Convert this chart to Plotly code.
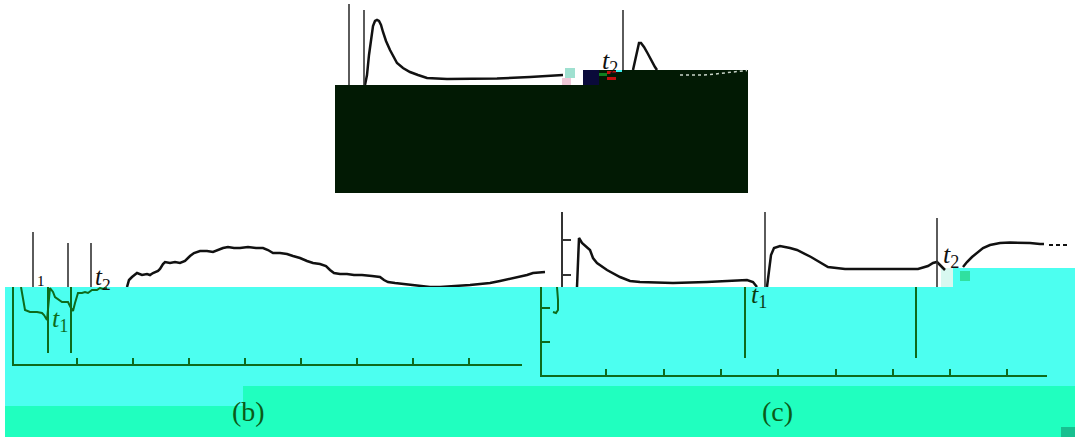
import plotly.graph_objects as go

W, H = 1075, 437

# ---- panel (a): upper trace, arbitrary units
a_x = [30, 32, 34, 36, 38, 40, 42, 44, 46, 48, 51, 55, 62, 68, 75, 83, 92, 112, 135, 162, 195, 228]
a_y = [0, 10, 30, 47, 59, 64, 65, 64, 60, 53, 44, 35, 22, 17, 13, 10, 7, 6, 6, 6.5, 8, 10]
a_peak2_x = [298, 300, 302, 304, 306, 309, 313, 317, 320, 322]
a_peak2_y = [15, 25, 35, 42, 42, 38, 31, 23, 18, 15]
a_tail_x = [345, 358, 368, 380, 395, 412]
a_tail_y = [10, 10, 10, 11, 12.5, 14.5]
a_marks_x = [14, 29, 288]
a_marks_top = [81, 75, 75]
a_marks_bot = [0, 0, 15]

# ---- panel (b)
b_green_x = [0, 2, 4, 9, 16, 21, 23, 26, 28, 29, 32, 34, 41, 47, 50, 52, 54, 57, 61, 64, 67, 71, 76, 79, 82, 86]
b_green_y = [77, 67, 54, 52, 52, 51, 49, 44, 64, 76, 72, 67, 62, 62, 56, 53, 61, 71, 71, 72, 71, 74, 74, 76, 75, 76]
b_green_marks_x = [27, 50]
b_black_x = [106, 108, 111, 116, 121, 126, 129, 132, 137, 139, 142, 144, 149, 154, 159, 164, 169, 173, 179, 186,
             192, 197, 202, 207, 213, 219, 227, 235, 242, 247, 252, 259, 266, 272, 279, 286, 292, 299, 305, 309,
             313, 319, 326, 333, 341, 351, 359, 363, 367, 374, 382, 391, 399, 409, 419, 429, 439, 449, 459, 469,
             479, 489, 499, 506, 512, 519, 524]
b_black_y = [77, 84, 87, 91, 89, 90, 89, 91, 93, 95, 100, 102, 101, 102, 101, 103, 108, 111, 113, 113,
             112, 114, 116, 117, 116, 116, 117, 116, 116, 114, 111, 111, 110, 108, 106, 103, 101, 100, 98, 94,
             91, 90, 90, 89, 89, 88, 87, 84, 82, 81, 80, 79, 78, 77, 77, 77.5, 78, 79, 80, 81,
             83, 85, 87, 89, 91, 92, 92]
b_marks_x = [12, 47, 70]
b_marks_top = [132, 121, 121]

# ---- panel (c)
c_green_x = [8, 9, 9, 7, 4]
c_green_y = [88, 75, 65, 62, 63]
c_green_marks_x = [196, 367]
c_seg1_x = [28, 30, 33, 41, 44, 48, 58, 71, 81, 91, 124, 158, 198, 204, 208]
c_seg1_y = [88, 137, 132, 125, 117, 112, 105, 98, 94, 93, 92, 93, 95, 93, 88]
c_seg2_x = [218, 220, 222, 225, 231, 241, 248, 262, 271, 279, 296, 331, 369, 379, 384, 388, 391, 394, 396]
c_seg2_y = [88, 105, 120, 127, 129, 127, 125, 118, 113, 108, 106, 106, 106, 109, 112, 113, 110, 107, 105]
c_seg3_x = [414, 418, 423, 429, 434, 441, 451, 461, 471, 481, 491, 495]
c_seg3_y = [108, 113, 118, 123, 127, 130, 132, 132.5, 132.5, 132, 131, 131]
c_dash_x = [500, 520]
c_dash_y = [130, 130]
c_marks_x = [216, 388]
c_marks_top = [163, 157]
c_xticks = [57.3, 114.6, 171.9, 229.2, 286.5, 343.8, 401.1, 458.4]
b_xticks = [56, 112, 168, 224, 280, 336, 392, 448]

BLACK = "#111111"
GREEN = "#0e6b1c"
CYAN = "#4cfff0"
MINT = "#20ffbf"
DARK = "#021a04"


def px(x):
    return x / W


def py(y):
    return 1 - y / H


fig = go.Figure()


def line(x, y, xa, ya, color, width, dash="solid"):
    fig.add_trace(go.Scatter(x=x, y=y, xaxis=xa, yaxis=ya, mode="lines",
                             line=dict(color=color, width=width, dash=dash),
                             showlegend=False, hoverinfo="skip"))


def marks(xs, bot, tops, xa, ya, color, width):
    for i, x in enumerate(xs):
        b = bot[i] if isinstance(bot, list) else bot
        line([x, x], [b, tops[i]], xa, ya, color, width)


# panel a
line(a_x, a_y, "x", "y", BLACK, 2.5)
line(a_peak2_x, a_peak2_y, "x", "y", BLACK, 2.5)
line(a_tail_x, a_tail_y, "x", "y", "#c8d4c8", 1.5, "dot")
marks(a_marks_x, a_marks_bot, a_marks_top, "x", "y", "#333333", 1.6)

# panel b
line(b_green_x, b_green_y, "x2", "y2", GREEN, 2)
marks(b_green_marks_x, 11, [77, 77], "x2", "y2", GREEN, 2)
line(b_black_x, b_black_y, "x3", "y3", BLACK, 2.5)
marks(b_marks_x, 77, b_marks_top, "x3", "y3", "#333333", 1.6)

# panel c
line(c_green_x, c_green_y, "x4", "y4", GREEN, 2)
marks(c_green_marks_x, 17, [88, 88], "x4", "y4", GREEN, 2)
line(c_seg1_x, c_seg1_y, "x5", "y5", BLACK, 2.5)
line(c_seg2_x, c_seg2_y, "x5", "y5", BLACK, 2.5)
line(c_seg3_x, c_seg3_y, "x5", "y5", BLACK, 2.5)
line(c_dash_x, c_dash_y, "x5", "y5", BLACK, 2, "4px,3px")
marks(c_marks_x, 88, c_marks_top, "x5", "y5", "#333333", 1.6)

hidden = dict(visible=False, fixedrange=True)
green_x = dict(showline=True, linecolor=GREEN, linewidth=2, ticks="inside", ticklen=6, tickwidth=2,
               tickcolor=GREEN, showticklabels=False, showgrid=False, zeroline=False)
green_y = dict(showline=True, linecolor=GREEN, linewidth=2, showticklabels=False,
               showgrid=False, zeroline=False)

# background blocks (image regions)
rects = [
    (335, 85, 748, 193, DARK), (583, 70, 748, 85, DARK), (583, 70, 599, 85, "#0a0a3a"),
    (565, 68, 575, 78, "#9fe0d0"), (562, 78, 571, 85, "#f0c8d8"),
    (607, 71, 616, 74, "#c01010"), (607, 77, 616, 80, "#c01010"), (599, 73, 607, 76, "#108020"),
    (616, 70, 622, 72, "#40f0f0"),
    (5, 287, W, 386, CYAN), (942, 268, W, 287, CYAN), (5, 386, 243, 406, CYAN),
    (243, 386, W, H, MINT), (5, 406, 243, H, MINT), (1061, 427, W, H, "#18c090"),
    (941, 268, 953, 287, "#d8f8f0"), (960, 271, 970, 281, "#30e0a0"),
]
shapes = [dict(type="rect", xref="paper", yref="paper", x0=px(x0), x1=px(x1), y0=py(y1), y1=py(y0),
               fillcolor=c, line=dict(width=0), layer="below") for x0, y0, x1, y1, c in rects]

SERIF = "Liberation Serif"
labels = [
    (610, 62, "<i>t</i><sub>2</sub>", BLACK, 26),
    (41, 281, "1", "#000000", 15),
    (103, 278, "<i>t</i><sub>2</sub>", BLACK, 25),
    (60, 320, "<i>t</i><sub>1</sub>", GREEN, 26),
    (759, 296, "<i>t</i><sub>1</sub>", "#0b3a12", 26),
    (951, 256, "<i>t</i><sub>2</sub>", BLACK, 26),
    (248, 411, "(b)", "#0b5a18", 28),
    (777, 411, "(c)", "#0b5a18", 28),
]
annotations = [dict(x=px(x), y=py(y), xref="paper", yref="paper", text=t, showarrow=False,
                    xanchor="center", yanchor="middle", font=dict(family=SERIF, size=s, color=c))
               for x, y, t, c, s in labels]

fig.update_layout(
    width=W, height=H, margin=dict(l=0, r=0, t=0, b=0),
    paper_bgcolor="white", plot_bgcolor="rgba(0,0,0,0)",
    showlegend=False, shapes=shapes, annotations=annotations,
    xaxis=dict(domain=[px(335), px(748)], range=[0, 413], **hidden),
    yaxis=dict(domain=[py(85), py(0)], range=[0, 85], **hidden),
    xaxis2=dict(domain=[px(14), px(522)], range=[-7, 501], tickvals=b_xticks, anchor="y2", **green_x),
    yaxis2=dict(domain=[py(364), py(287)], range=[0, 77], anchor="x2", **green_y),
    xaxis3=dict(domain=[px(14), px(548)], range=[-7, 527], anchor="y3", **hidden),
    yaxis3=dict(domain=[py(287), py(225)], range=[77, 139], anchor="x3", **hidden),
    xaxis4=dict(domain=[px(542), px(1047)], range=[-7, 498], tickvals=c_xticks, anchor="y4", **green_x),
    yaxis4=dict(domain=[py(375), py(287)], range=[0, 88], anchor="x4", ticks="inside", ticklen=8,
                tickwidth=2, tickcolor=GREEN, tickvals=[33.5, 67], **green_y),
    xaxis5=dict(domain=[px(563), px(W)], range=[14, 526], anchor="y5", **hidden),
    yaxis5=dict(domain=[py(287), py(212)], range=[88, 163], anchor="x5", showline=True, linecolor="#333333",
                linewidth=1.6, ticks="inside", ticklen=8, tickwidth=1.6, tickcolor="#333333",
                tickvals=[100, 135], showticklabels=False, showgrid=False, zeroline=False),
)

fig.write_html("out.html", config={"displayModeBar": False},
               post_script="document.body.style.margin='0';")
